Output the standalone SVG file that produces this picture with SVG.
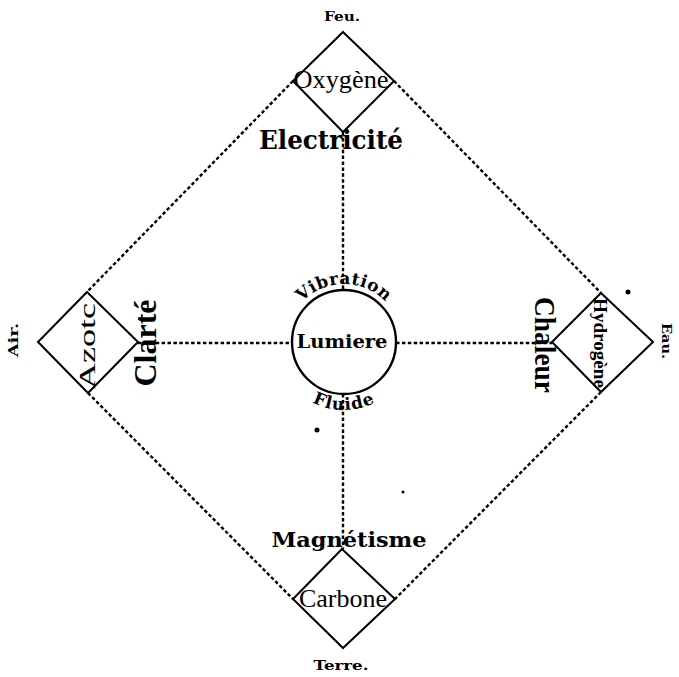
<svg xmlns="http://www.w3.org/2000/svg" width="679" height="677" viewBox="0 0 679 677">
<defs>
<style>
.dash{stroke:#000;stroke-width:2.4;stroke-dasharray:3.5 2.4;fill:none}
.box{stroke:#000;stroke-width:2;fill:#fff}
.ser{font-family:"Liberation Serif","Times New Roman",serif;fill:#000}
.hvy{font-family:"DejaVu Serif","Liberation Serif",serif;font-weight:bold;fill:#000}
</style>
<path id="arcTop" d="M 286 342 A 58 58 0 0 1 402 342"/>
<path id="arcBot" d="M 276 342 A 68 68 0 0 0 412 342"/>
</defs>
<rect width="679" height="677" fill="#fff"/>
<g id="connectors">
<line class="dash" x1="293" y1="81" x2="87" y2="292"/>
<line class="dash" x1="394" y1="81" x2="601" y2="293"/>
<line class="dash" x1="88" y1="393" x2="293" y2="599"/>
<line class="dash" x1="601" y1="392" x2="395" y2="599"/>
<line class="dash" x1="343" y1="132" x2="343" y2="290"/>
<line class="dash" x1="343" y1="394" x2="343" y2="549"/>
<line class="dash" x1="138" y1="343" x2="292" y2="343"/>
<line class="dash" x1="396" y1="343" x2="552" y2="343"/>
</g>
<g id="oxygene">
<polygon class="box" points="343,32 394,81 343,132 293,81"/>
<text class="ser" x="341" y="88" font-size="25" text-anchor="middle" textLength="95" lengthAdjust="spacingAndGlyphs">Oxygène</text>
</g>
<g id="azotc">
<polygon class="box" points="87,292 138,342 88,393 38,342"/>
<text class="ser" transform="translate(95,346) rotate(-90)" font-size="23" text-anchor="middle" textLength="86" lengthAdjust="spacingAndGlyphs">Azotc</text>
</g>
<g id="hydrogene">
<polygon class="box" points="601,293 653,342 601,392 552,342"/>
<text class="ser" transform="translate(594,343) rotate(90)" font-size="19" font-weight="bold" text-anchor="middle" textLength="90" lengthAdjust="spacingAndGlyphs">Hydrogène</text>
</g>
<g id="carbone">
<polygon class="box" points="342,549 395,599 343,648 293,599"/>
<text class="ser" x="343" y="607" font-size="26" text-anchor="middle" textLength="88" lengthAdjust="spacingAndGlyphs">Carbone</text>
</g>
<g id="lumiere">
<circle cx="344" cy="342" r="52" fill="#fff" stroke="#000" stroke-width="2.4"/>
<text class="hvy" x="342" y="348" font-size="18" text-anchor="middle" textLength="91" lengthAdjust="spacingAndGlyphs">Lumiere</text>
<text class="hvy" font-size="17" letter-spacing="0.5"><textPath href="#arcTop" startOffset="50%" text-anchor="middle">Vibration</textPath></text>
<text class="hvy" font-size="17" letter-spacing="1"><textPath href="#arcBot" startOffset="50%" text-anchor="middle">Fluide</textPath></text>
</g>
<g id="labels">
<text class="hvy" x="342" y="21" font-size="13" text-anchor="middle" textLength="36" lengthAdjust="spacingAndGlyphs">Feu.</text>
<text class="hvy" x="341" y="670" font-size="13" text-anchor="middle" textLength="55" lengthAdjust="spacingAndGlyphs">Terre.</text>
<text class="hvy" transform="translate(18,340) rotate(-90)" font-size="13" text-anchor="middle" textLength="34" lengthAdjust="spacingAndGlyphs">Air.</text>
<text class="hvy" transform="translate(662,341) rotate(90)" font-size="13" text-anchor="middle" textLength="36" lengthAdjust="spacingAndGlyphs">Eau.</text>
<text class="hvy" x="331" y="149" font-size="26" text-anchor="middle" textLength="144" lengthAdjust="spacingAndGlyphs">Electricité</text>
<text class="hvy" x="349" y="547" font-size="21" text-anchor="middle" textLength="155" lengthAdjust="spacingAndGlyphs">Magnétisme</text>
<text class="ser" transform="translate(156,343) rotate(-90)" font-size="31" font-weight="bold" text-anchor="middle" textLength="87" lengthAdjust="spacingAndGlyphs">Clarté</text>
<text class="ser" transform="translate(535,345) rotate(90)" font-size="30" font-weight="bold" text-anchor="middle" textLength="96" lengthAdjust="spacingAndGlyphs">Chaleur</text>
</g>
<g id="specks">
<circle cx="628" cy="292" r="2.5"/>
<circle cx="317" cy="430" r="2.5"/>
<circle cx="403" cy="492" r="1.5"/>
</g>
</svg>
